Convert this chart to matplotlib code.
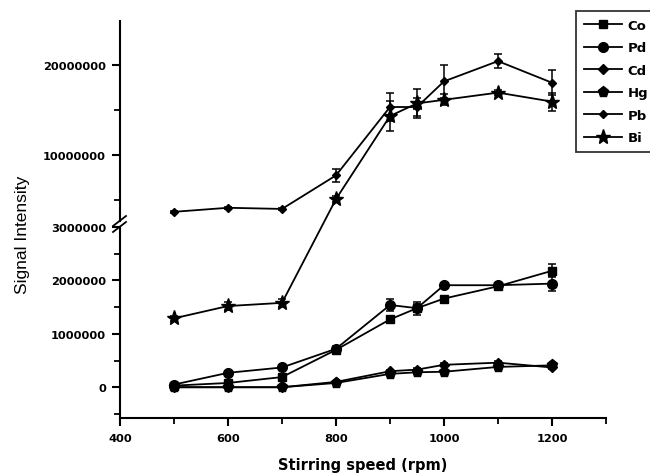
import matplotlib
matplotlib.use("Agg")
import matplotlib.pyplot as plt
from matplotlib.patches import ConnectionPatch
from matplotlib.lines import Line2D
from matplotlib.ticker import MultipleLocator, FixedLocator, FuncFormatter
from matplotlib.font_manager import FontProperties
import numpy as np

# ---- data ----
speed = [500, 600, 700, 800, 900, 950, 1000, 1100, 1200]
co = [0.03e6, 0.08e6, 0.19e6, 0.70e6, 1.27e6, 1.48e6, 1.66e6, 1.89e6, 2.18e6]
pd_ = [0.05e6, 0.27e6, 0.37e6, 0.72e6, 1.54e6, 1.48e6, 1.91e6, 1.91e6, 1.94e6]
cd = [0.0, 0.0, 0.0, 0.10e6, 0.30e6, 0.33e6, 0.42e6, 0.46e6, 0.37e6]
hg = [0.0, 0.0, 0.0, 0.08e6, 0.25e6, 0.28e6, 0.29e6, 0.38e6, 0.41e6]
pb = [3.65e6, 4.10e6, 3.97e6, 7.70e6, 15.3e6, 15.3e6, 18.15e6, 20.4e6, 18.0e6]
bi = [1.29e6, 1.52e6, 1.58e6, 5.07e6, 14.3e6, 15.7e6, 16.1e6, 16.9e6, 15.9e6]

co_err = [0.02e6, 0.03e6, 0.03e6, 0.04e6, 0.06e6, 0.08e6, 0.05e6, 0.05e6, 0.12e6]
pd_err = [0.02e6, 0.03e6, 0.04e6, 0.05e6, 0.12e6, 0.12e6, 0.05e6, 0.05e6, 0.14e6]
cd_err = [0.01e6, 0.01e6, 0.01e6, 0.02e6, 0.03e6, 0.03e6, 0.03e6, 0.03e6, 0.03e6]
hg_err = [0.01e6, 0.01e6, 0.01e6, 0.02e6, 0.03e6, 0.03e6, 0.03e6, 0.03e6, 0.03e6]
pb_err = [0.1e6, 0.1e6, 0.1e6, 0.7e6, 1.6e6, 1.0e6, 1.85e6, 0.8e6, 1.4e6]
bi_err = [0.05e6, 0.08e6, 0.07e6, 0.3e6, 1.7e6, 1.6e6, 0.6e6, 0.3e6, 1.0e6]

labels = ["Co", "Pd", "Cd", "Hg", "Pb", "Bi"]
break_value = 3.0e6
x_ticks = [400, 600, 800, 1000, 1200]
low_ticks = [0, 1000000, 2000000, 3000000]
high_ticks = [10000000, 20000000]

# ---- figure ----
W, H = 650, 477
fig = plt.figure(figsize=(W / 100, H / 100), dpi=100)
L, R = 120 / W, 606 / W
axb = fig.add_axes([L, 1 - 419 / H, R - L, (419 - 228) / H])
axt = fig.add_axes([L, 1 - 222 / H, R - L, (222 - 22) / H], sharex=axb)
for ax in (axb, axt):
    ax.patch.set_alpha(0)
    for s in ("top", "right"):
        ax.spines[s].set_visible(False)
    ax.spines["left"].set_linewidth(1.5)
axt.spines["bottom"].set_visible(False)
axb.spines["bottom"].set_linewidth(1.5)

axb.set_xlim(400, 1300)
axb.set_ylim(-0.576e6, break_value)
axt.set_ylim(2.63e6, 24.86e6)

tickfont = FontProperties(family="DejaVu Sans", weight="bold", size=8.2)
axb.xaxis.set_major_locator(FixedLocator(x_ticks))
axb.xaxis.set_minor_locator(MultipleLocator(100))
axb.yaxis.set_major_locator(FixedLocator(low_ticks))
axb.yaxis.set_minor_locator(MultipleLocator(500000))
axt.yaxis.set_major_locator(FixedLocator(high_ticks))
axt.yaxis.set_minor_locator(MultipleLocator(5000000))
fmt = FuncFormatter(lambda v, p: f"{int(round(v))}")
axb.yaxis.set_major_formatter(fmt)
axt.yaxis.set_major_formatter(fmt)

for ax in (axb, axt):
    ax.tick_params(axis="both", which="major", length=6, width=1.5, direction="out", pad=4)
    ax.tick_params(axis="both", which="minor", length=4, width=1.3, direction="out")
    for lab in ax.get_yticklabels() + ax.get_xticklabels():
        lab.set_fontproperties(tickfont)
axt.tick_params(axis="x", which="both", bottom=False, labelbottom=False)
axb.tick_params(axis="x", which="major", pad=5)

common = dict(color="black", lw=1.3, capsize=3, elinewidth=1.1, capthick=1.1)
axb.errorbar(speed, co, yerr=co_err, marker="s", ms=6, **common)
axb.errorbar(speed, pd_, yerr=pd_err, marker="o", ms=7, **common)
axb.errorbar(speed, cd, yerr=cd_err, marker="D", ms=5.5, **common)
axb.errorbar(speed, hg, yerr=hg_err, marker="p", ms=8, **common)
axt.errorbar(speed, pb, yerr=pb_err, marker="D", ms=4.5, **common)

bi_arr = np.array(bi)
sp_arr = np.array(speed)
lo = bi_arr < break_value
axb.errorbar(sp_arr[lo], bi_arr[lo], yerr=np.array(bi_err)[lo], marker="*", ms=11, **common)
axt.errorbar(sp_arr[~lo], bi_arr[~lo], yerr=np.array(bi_err)[~lo], marker="*", ms=11, **common)
i_last = np.where(lo)[0][-1]
con = ConnectionPatch(xyA=(speed[i_last], bi[i_last]), coordsA=axb.transData,
                      xyB=(speed[i_last + 1], bi[i_last + 1]), coordsB=axt.transData,
                      color="black", lw=1.3)
fig.add_artist(con)

# axis break marks
for dy in (-3, 3):
    yc = 225 + dy
    fig.add_artist(Line2D([113 / W, 126 / W], [1 - (yc + 5) / H, 1 - (yc - 5) / H],
                          transform=fig.transFigure, color="black", lw=1.3))

axb.set_xlabel("Stirring speed (rpm)", fontsize=10.5, family="DejaVu Sans",
               weight="bold", labelpad=10)
fig.text(23 / W, 1 - 235 / H, "Signal Intensity", rotation=90, ha="center", va="center",
         fontsize=12.5, family="Liberation Sans")

handles = [Line2D([], [], color="black", lw=1.3, marker=m, ms=s)
           for m, s in zip(["s", "o", "D", "p", "D", "*"], [6, 7, 5.5, 8, 4.5, 11])]
leg = fig.legend(handles, labels, loc="upper left", bbox_to_anchor=(576 / W, 1 - 12 / H),
                 bbox_transform=fig.transFigure, borderaxespad=0, frameon=True,
                 fancybox=False, edgecolor="black", handlelength=2.9, handletextpad=0.4,
                 labelspacing=0.72, borderpad=0.6,
                 prop=dict(family="DejaVu Sans", weight="bold", size=9.5))
leg.get_frame().set_linewidth(1.3)

fig.savefig("out.png", dpi=100)
